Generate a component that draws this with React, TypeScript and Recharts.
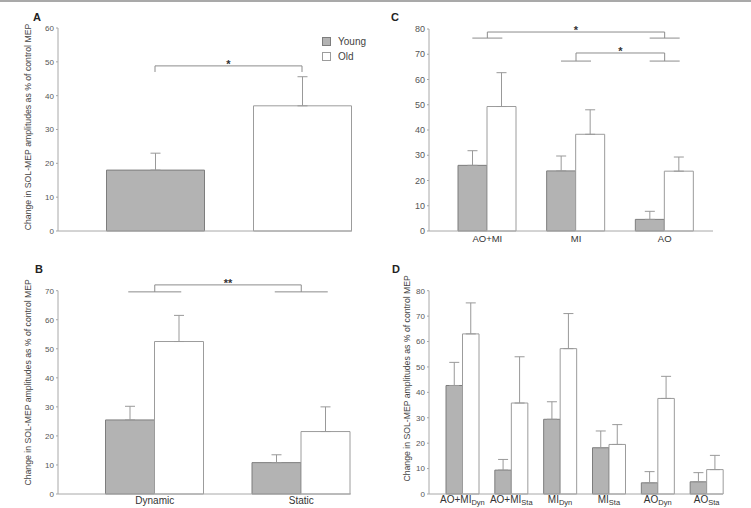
import React from "react";
import {
  Bar,
  BarChart,
  Cell,
  ErrorBar,
  Label,
  Legend,
  ReferenceLine,
  XAxis,
  YAxis,
} from "recharts";

const FONT = '"Liberation Sans", Arial, sans-serif';
const Y_TITLE = "Change in SOL-MEP amplitudes as % of control MEP";

const YOUNG_FILL = "#b3b3b3";
const YOUNG_EDGE = "#7d7d7d";
const OLD_FILL = "#ffffff";
const OLD_EDGE = "#9c9c9c";
const AXIS = "#a8a8a8";
const WHISKER = "#999999";
const BRACKET = "#8c8c8c";
const TICK_TEXT = "#555555";

// A: overall young vs old
const A_GROUPS = ["Young", "Old"];
const A_MEAN = [18, 37];
const A_SE = [5, 8.6];
const A_TICKS = [0, 10, 20, 30, 40, 50, 60];

// B: task type
const B_TASKS = ["Dynamic", "Static"];
const B_YOUNG = [25.5, 10.8];
const B_YOUNG_SE = [4.7, 2.7];
const B_OLD = [52.5, 21.5];
const B_OLD_SE = [9, 8.5];
const B_TICKS = [0, 10, 20, 30, 40, 50, 60, 70];

// C: condition
const C_CONDS = ["AO+MI", "MI", "AO"];
const C_YOUNG = [26, 23.8, 4.6];
const C_YOUNG_SE = [5.8, 5.9, 3.2];
const C_OLD = [49.3, 38.3, 23.7];
const C_OLD_SE = [13.4, 9.7, 5.6];
const C_TICKS = [0, 10, 20, 30, 40, 50, 60, 70, 80];

// D: condition x task
const D_CONDS = ["AO+MI", "AO+MI", "MI", "MI", "AO", "AO"];
const D_TASKS = ["Dyn", "Sta", "Dyn", "Sta", "Dyn", "Sta"];
const D_YOUNG = [42.7, 9.4, 29.4, 18.2, 4.4, 4.8];
const D_YOUNG_SE = [9.1, 4.2, 6.9, 6.6, 4.4, 3.6];
const D_OLD = [63, 35.8, 57.2, 19.5, 37.6, 9.6];
const D_OLD_SE = [12.2, 18.2, 13.8, 7.8, 8.7, 5.6];
const D_TICKS = [0, 10, 20, 30, 40, 50, 60, 70, 80];

const LEGEND = [
  { label: "Young", fill: YOUNG_FILL, edge: YOUNG_EDGE },
  { label: "Old", fill: OLD_FILL, edge: OLD_EDGE },
];

const dataA = A_GROUPS.map((g, i) => ({ name: g, mean: A_MEAN[i], err: [0, A_SE[i]] }));

function pairRows(names: string[], young: number[], youngSe: number[], old: number[], oldSe: number[]) {
  return names.map((name, i) => ({
    name,
    young: young[i],
    youngErr: [0, youngSe[i]],
    old: old[i],
    oldErr: [0, oldSe[i]],
  }));
}

const dataB = pairRows(B_TASKS, B_YOUNG, B_YOUNG_SE, B_OLD, B_OLD_SE);
const dataC = pairRows(C_CONDS, C_YOUNG, C_YOUNG_SE, C_OLD, C_OLD_SE);
const dataD = pairRows(
  D_CONDS.map((c, i) => `${c} ${D_TASKS[i]}`),
  D_YOUNG,
  D_YOUNG_SE,
  D_OLD,
  D_OLD_SE
);

const yTitle = (dx: number, dy: number) => (props: any) => {
  const vb = props.viewBox;
  const cx = vb.x + dx;
  const cy = vb.y + vb.height / 2 + dy;
  return (
    <text
      x={cx}
      y={cy}
      transform={`rotate(-90 ${cx} ${cy})`}
      textAnchor="middle"
      dominantBaseline="central"
      fontSize={8.7}
      fill="#444"
      fontFamily={FONT}
    >
      {Y_TITLE}
    </text>
  );
};

// short horizontal foot under a bracket leg, centred on the category
const foot = (half: number) => (p: any) => (
  <line x1={p.x1 - half} x2={p.x1 + half} y1={p.y1} y2={p.y1} stroke={BRACKET} strokeWidth={1} />
);

const star = (value: string) => ({
  value,
  position: "top" as const,
  offset: -2,
  fill: "#333",
  fontSize: 11,
  fontWeight: "bold",
  fontFamily: FONT,
});

function SubTick({ x, y, payload }: any) {
  const [base, sub] = String(payload.value).split(" ");
  return (
    <text x={x} y={y} dy="0.71em" textAnchor="middle" fill="#333" fontFamily={FONT} fontSize={10}>
      <tspan>{base}</tspan>
      <tspan fontSize={7.5} dy={2}>
        {sub}
      </tspan>
    </text>
  );
}

const yTick = { fontSize: 8, fill: TICK_TEXT, fontFamily: FONT };

function LegendBox() {
  return (
    <div style={{ fontFamily: FONT, fontSize: 10, color: "#444", lineHeight: "15px" }}>
      {LEGEND.map((item) => (
        <div key={item.label} style={{ display: "flex", alignItems: "center", color: "#444" }}>
          <span
            style={{
              width: 7,
              height: 7,
              background: item.fill,
              border: `1px solid ${item.edge}`,
              marginRight: 7,
            }}
          />
          {item.label}
        </div>
      ))}
    </div>
  );
}

function PanelA() {
  return (
    <BarChart width={370} height={250} data={dataA} margin={{ top: 28, right: 18, bottom: 0, left: 0 }}>
      <XAxis
        dataKey="name"
        height={19}
        tick={false}
        tickLine={false}
        axisLine={{ stroke: AXIS }}
        padding={{ left: 23.5, right: -23.5 }}
      />
      <YAxis
        width={58}
        domain={[0, 60]}
        ticks={A_TICKS}
        tick={yTick}
        tickSize={2}
        tickMargin={2}
        tickLine={{ stroke: AXIS }}
        axisLine={{ stroke: AXIS }}
      >
        <Label content={yTitle(28, -2.5)} />
      </YAxis>
      <Legend
        layout="vertical"
        align="center"
        verticalAlign="middle"
        content={() => <LegendBox />}
        wrapperStyle={{ left: 322, top: 34, width: 80 }}
      />
      <Bar dataKey="mean" barSize={98} isAnimationActive={false}>
        {dataA.map((_, i) => (
          <Cell
            key={i}
            fill={i === 0 ? YOUNG_FILL : OLD_FILL}
            stroke={i === 0 ? YOUNG_EDGE : OLD_EDGE}
          />
        ))}
        <ErrorBar dataKey="err" width={5} stroke={WHISKER} strokeWidth={1} />
      </Bar>
      <ReferenceLine segment={[{ x: "Young", y: 48.8 }, { x: "Old", y: 48.8 }]} stroke={BRACKET} label={star("*")} />
      <ReferenceLine segment={[{ x: "Young", y: 48.8 }, { x: "Young", y: 47 }]} stroke={BRACKET} />
      <ReferenceLine segment={[{ x: "Old", y: 48.8 }, { x: "Old", y: 47 }]} stroke={BRACKET} />
    </BarChart>
  );
}

function PairBars() {
  return [
    <Bar key="y" dataKey="young" fill={YOUNG_FILL} stroke={YOUNG_EDGE} isAnimationActive={false}>
      <ErrorBar dataKey="youngErr" width={5} stroke={WHISKER} strokeWidth={1} />
    </Bar>,
    <Bar key="o" dataKey="old" fill={OLD_FILL} stroke={OLD_EDGE} isAnimationActive={false}>
      <ErrorBar dataKey="oldErr" width={5} stroke={WHISKER} strokeWidth={1} />
    </Bar>,
  ];
}

function PanelB() {
  return (
    <BarChart
      width={370}
      height={258}
      data={dataB}
      barSize={49}
      barGap={0}
      margin={{ top: 40.7, right: 19, bottom: 0, left: 0 }}
    >
      <XAxis
        dataKey="name"
        height={14}
        tickLine={false}
        tickSize={0}
        tickMargin={3}
        tick={{ fontSize: 10, fill: "#333", fontFamily: FONT }}
        axisLine={{ stroke: AXIS }}
        padding={{ left: 23.5, right: -23.5 }}
      />
      <YAxis
        width={58}
        domain={[0, 70]}
        ticks={B_TICKS}
        tick={yTick}
        tickSize={2}
        tickMargin={2}
        tickLine={{ stroke: AXIS }}
        axisLine={{ stroke: AXIS }}
      >
        <Label content={yTitle(28, -10)} />
      </YAxis>
      {PairBars()}
      <ReferenceLine
        ifOverflow="visible"
        segment={[{ x: "Dynamic", y: 72 }, { x: "Static", y: 72 }]}
        stroke={BRACKET}
        label={star("**")}
      />
      <ReferenceLine ifOverflow="visible" segment={[{ x: "Dynamic", y: 72 }, { x: "Dynamic", y: 69.6 }]} stroke={BRACKET} />
      <ReferenceLine ifOverflow="visible" segment={[{ x: "Static", y: 72 }, { x: "Static", y: 69.6 }]} stroke={BRACKET} />
      <ReferenceLine ifOverflow="visible" segment={[{ x: "Dynamic", y: 69.6 }, { x: "Dynamic", y: 69.6 }]} shape={foot(26.5)} />
      <ReferenceLine ifOverflow="visible" segment={[{ x: "Static", y: 69.6 }, { x: "Static", y: 69.6 }]} shape={foot(26.5)} />
    </BarChart>
  );
}

function PanelC() {
  return (
    <BarChart
      width={381}
      height={250}
      data={dataC}
      barSize={29}
      barGap={0}
      margin={{ top: 29, right: 38, bottom: 0, left: 0 }}
    >
      <XAxis
        dataKey="name"
        height={19}
        tickLine={false}
        tickSize={0}
        tickMargin={4}
        tick={{ fontSize: 9.5, fill: "#333", fontFamily: FONT }}
        axisLine={{ stroke: AXIS }}
        padding={{ left: 14, right: 4 }}
      />
      <YAxis
        width={59}
        domain={[0, 80]}
        ticks={C_TICKS}
        tick={{ ...yTick, fontSize: 9 }}
        tickSize={2}
        tickMargin={2}
        tickLine={{ stroke: AXIS }}
        axisLine={{ stroke: AXIS }}
      />
      {PairBars()}
      <ReferenceLine segment={[{ x: "AO+MI", y: 78.8 }, { x: "AO", y: 78.8 }]} stroke={BRACKET} label={star("*")} />
      <ReferenceLine segment={[{ x: "AO+MI", y: 78.8 }, { x: "AO+MI", y: 76.4 }]} stroke={BRACKET} />
      <ReferenceLine segment={[{ x: "AO", y: 78.8 }, { x: "AO", y: 76.4 }]} stroke={BRACKET} />
      <ReferenceLine segment={[{ x: "AO+MI", y: 76.4 }, { x: "AO+MI", y: 76.4 }]} shape={foot(15)} />
      <ReferenceLine segment={[{ x: "AO", y: 76.4 }, { x: "AO", y: 76.4 }]} shape={foot(15)} />
      <ReferenceLine segment={[{ x: "MI", y: 70.5 }, { x: "AO", y: 70.5 }]} stroke={BRACKET} label={star("*")} />
      <ReferenceLine segment={[{ x: "MI", y: 70.5 }, { x: "MI", y: 67.3 }]} stroke={BRACKET} />
      <ReferenceLine segment={[{ x: "AO", y: 70.5 }, { x: "AO", y: 67.3 }]} stroke={BRACKET} />
      <ReferenceLine segment={[{ x: "MI", y: 67.3 }, { x: "MI", y: 67.3 }]} shape={foot(15)} />
      <ReferenceLine segment={[{ x: "AO", y: 67.3 }, { x: "AO", y: 67.3 }]} shape={foot(15)} />
    </BarChart>
  );
}

function PanelD() {
  return (
    <BarChart
      width={381}
      height={258}
      data={dataD}
      barSize={16.5}
      barGap={0}
      margin={{ top: 40.7, right: 28, bottom: 0, left: 0 }}
    >
      <XAxis
        dataKey="name"
        height={14}
        tickLine={false}
        tickSize={0}
        tickMargin={2}
        tick={<SubTick />}
        interval={0}
        axisLine={{ stroke: AXIS }}
        padding={{ left: 9, right: -8 }}
      />
      <YAxis
        width={59}
        domain={[0, 80]}
        ticks={D_TICKS}
        tick={yTick}
        tickSize={2}
        tickMargin={2}
        tickLine={{ stroke: AXIS }}
        axisLine={{ stroke: AXIS }}
      >
        <Label content={yTitle(37, -14)} />
      </YAxis>
      {PairBars()}
    </BarChart>
  );
}

const letter = (ch: string, left: number, top: number) => (
  <div
    style={{
      position: "absolute",
      left,
      top,
      fontFamily: FONT,
      fontWeight: "bold",
      fontSize: 11,
      color: "#222",
      lineHeight: "11px",
    }}
  >
    {ch}
  </div>
);

export default function App() {
  return (
    <div
      style={{
        position: "absolute",
        left: 0,
        top: 0,
        width: 751,
        height: 508,
        background: "#fff",
        borderTop: "2px solid #a9a9a9",
        boxSizing: "border-box",
        overflow: "hidden",
      }}
    >
      <div style={{ position: "absolute", left: 0, top: -2 }}>
        <PanelA />
      </div>
      <div style={{ position: "absolute", left: 370, top: -2 }}>
        <PanelC />
      </div>
      <div style={{ position: "absolute", left: 0, top: 248 }}>
        <PanelB />
      </div>
      <div style={{ position: "absolute", left: 370, top: 248 }}>
        <PanelD />
      </div>
      {letter("A", 33, 10)}
      {letter("C", 391, 10)}
      {letter("B", 35, 262)}
      {letter("D", 392, 262)}
    </div>
  );
}
